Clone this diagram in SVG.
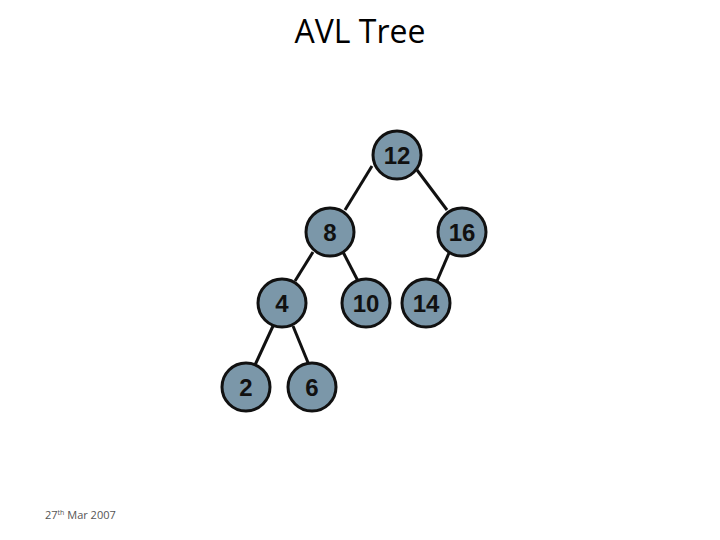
<svg xmlns="http://www.w3.org/2000/svg" width="720" height="540" viewBox="0 0 720 540">
<style>
.n circle{fill:#7b97a9;stroke:#111;stroke-width:3}
.n text{font-family:"Liberation Sans",Arial,sans-serif;font-size:24px;font-weight:bold;fill:#111;text-anchor:middle}
#edges line{stroke:#111;stroke-width:3}
</style>
<rect width="720" height="540" fill="#fff"/>
<text x="360" y="43" font-family="'Open Sans','Liberation Sans',Arial,sans-serif" font-size="32" text-anchor="middle" fill="#000">AVL Tree</text>
<g id="edges">
<line x1="372" y1="166" x2="345" y2="210"/>
<line x1="417" y1="170" x2="447" y2="210"/>
<line x1="313" y1="252" x2="295" y2="281"/>
<line x1="343" y1="252" x2="358" y2="281"/>
<line x1="449" y1="253" x2="437" y2="281"/>
<line x1="273" y1="326" x2="255" y2="365"/>
<line x1="293" y1="326" x2="309" y2="365"/>
</g>
<g id="n12" class="n"><circle cx="397" cy="155" r="24"/><text x="397" y="164">12</text></g>
<g id="n8" class="n"><circle cx="330" cy="232" r="24"/><text x="330" y="241">8</text></g>
<g id="n16" class="n"><circle cx="462" cy="232" r="24"/><text x="462" y="241">16</text></g>
<g id="n4" class="n"><circle cx="282" cy="303" r="24"/><text x="282" y="312">4</text></g>
<g id="n10" class="n"><circle cx="366" cy="303" r="24"/><text x="366" y="312">10</text></g>
<g id="n14" class="n"><circle cx="426" cy="303" r="24"/><text x="426" y="312">14</text></g>
<g id="n2" class="n"><circle cx="246" cy="387" r="24"/><text x="246" y="396">2</text></g>
<g id="n6" class="n"><circle cx="312" cy="387" r="24"/><text x="312" y="396">6</text></g>
<text x="45" y="519" font-family="'Open Sans','Liberation Sans',Arial,sans-serif" font-size="11" fill="#555">27<tspan font-size="7" dy="-4">th</tspan><tspan dy="4"> Mar 2007</tspan></text>
</svg>
